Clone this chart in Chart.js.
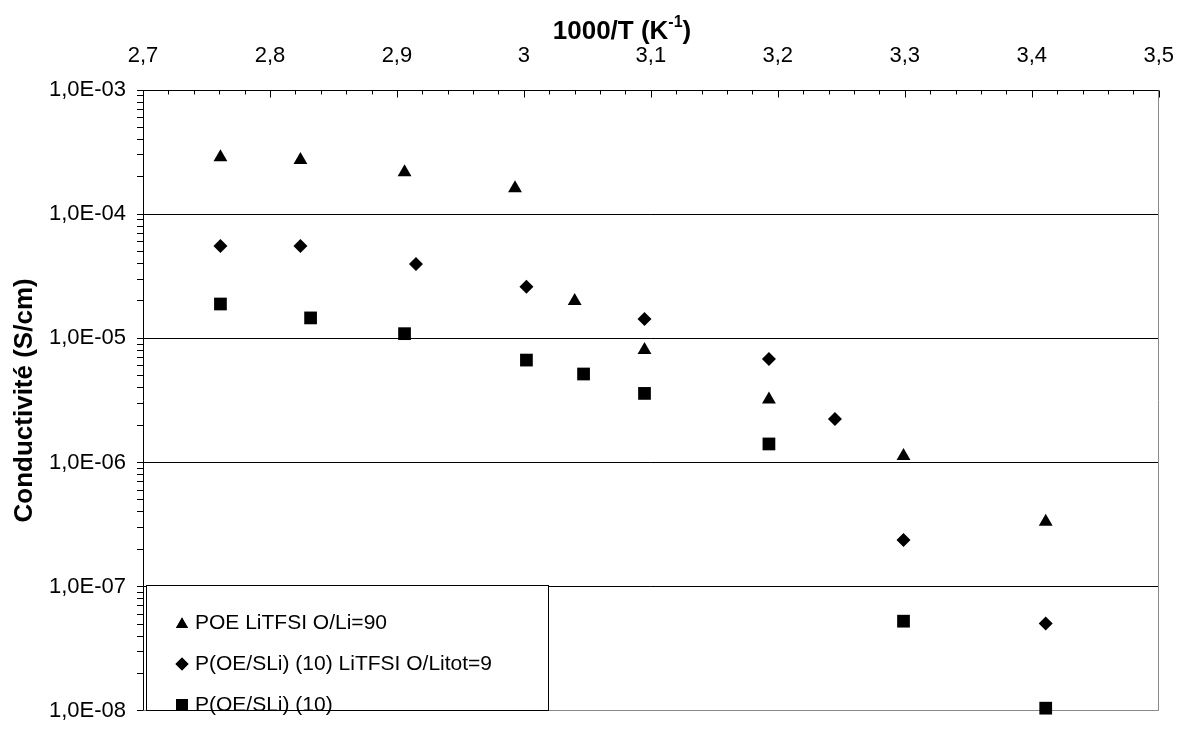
<!DOCTYPE html>
<html>
<head>
<meta charset="utf-8">
<script src="https://cdn.jsdelivr.net/npm/chart.js@4.4.1/dist/chart.umd.min.js"></script>
<style>
  html, body { margin: 0; padding: 0; background: #fff; }
  #wrap { width: 1195px; height: 735px; }
</style>
</head>
<body>
<div id="wrap"><canvas id="chart" width="1195" height="735"></canvas></div>
<script>
// series (x = 1000/T, y = conductivity in S/cm)
const seriesNames = ["POE LiTFSI O/Li=90", "P(OE/SLi) (10) LiTFSI O/Litot=9", "P(OE/SLi) (10)"];

const poeX = [2.761, 2.824, 2.906, 2.993, 3.040, 3.095, 3.193, 3.299, 3.411];
const poeY = [2.87e-4, 2.73e-4, 2.18e-4, 1.62e-4, 2.0e-5, 8.05e-6, 3.21e-6, 1.13e-6, 3.33e-7];

const blendX = [2.761, 2.824, 2.915, 3.002, 3.095, 3.193, 3.245, 3.299, 3.411];
const blendY = [5.55e-5, 5.55e-5, 3.96e-5, 2.6e-5, 1.43e-5, 6.8e-6, 2.24e-6, 2.38e-7, 5.05e-8];

const singleX = [2.761, 2.832, 2.906, 3.002, 3.047, 3.095, 3.193, 3.299, 3.411];
const singleY = [1.89e-5, 1.46e-5, 1.09e-5, 6.68e-6, 5.16e-6, 3.6e-6, 1.41e-6, 5.27e-8, 1.05e-8];

// axis ticks
const xMajorTicks = [2.7, 2.8, 2.9, 3.0, 3.1, 3.2, 3.3, 3.4, 3.5];
const yDecades = [1e-8, 1e-7, 1e-6, 1e-5, 1e-4, 1e-3];

const FONT = "'Liberation Sans', Arial, sans-serif";
Chart.defaults.font.family = FONT;
Chart.defaults.color = "#000";

const toPoints = (xs, ys) => xs.map((x, i) => ({ x: x, y: ys[i] }));

// minor ticks every 0.02 between the labelled ones
const xTicks = [];
for (let i = 0; i < xMajorTicks.length - 1; i++) {
  for (let k = 0; k < 5; k++) {
    xTicks.push(Math.round((xMajorTicks[i] + k * 0.02) * 100) / 100);
  }
}
xTicks.push(xMajorTicks[xMajorTicks.length - 1]);
const isXMajor = (v) => Math.round(v * 100) % 10 === 0;

// log minor ticks 2..9 in each decade
const yTicks = [];
yDecades.forEach((d, i) => {
  yTicks.push(d);
  if (i < yDecades.length - 1) {
    for (let m = 2; m <= 9; m++) yTicks.push(m * d);
  }
});
const isDecade = (v) => {
  const e = Math.round(Math.log10(v));
  return Math.abs(v / Math.pow(10, e) - 1) < 1e-6;
};

const frame = {
  id: "frame",
  beforeDatasetsDraw(chart) {
    const { ctx, chartArea: a, scales } = chart;
    const L = Math.round(a.left) + 0.5, R = Math.round(a.right) - 0.5;
    const T = Math.round(a.top) + 0.5, B = Math.round(a.bottom) - 0.5;
    ctx.save();
    ctx.lineWidth = 1;
    ctx.strokeStyle = "#8a8a8a";
    ctx.beginPath();
    ctx.moveTo(L, B);
    ctx.lineTo(R, B);
    ctx.lineTo(R, T);
    ctx.stroke();
    ctx.strokeStyle = "#000";
    ctx.beginPath();
    ctx.moveTo(R, T);
    ctx.lineTo(L, T);
    ctx.lineTo(L, B);
    ctx.stroke();
    // inward ticks on the top axis
    ctx.beginPath();
    xTicks.forEach((v) => {
      const px = Math.round(scales.x.getPixelForValue(v)) + 0.5;
      const len = isXMajor(v) ? 7 : 4;
      ctx.moveTo(px, T);
      ctx.lineTo(px, T + len);
    });
    ctx.stroke();
    ctx.restore();
  },
  afterDatasetsDraw(chart) {
    const { ctx, scales } = chart;
    // legend box
    const left = Math.round(chart.chartArea.left) + 3.5;
    const top = Math.round(scales.y.getPixelForValue(1e-7)) - 1.5;
    const right = 548.5;
    const bottom = Math.round(chart.chartArea.bottom) - 0.5;
    ctx.save();
    ctx.fillStyle = "#fff";
    ctx.fillRect(left, top, right - left, bottom - top);
    ctx.strokeStyle = "#000";
    ctx.lineWidth = 1;
    ctx.strokeRect(left, top, right - left, bottom - top);
    const rows = [623, 664, 705];
    const legendRadius = [7, 6.5, 8.5];
    ctx.font = "21px " + FONT;
    ctx.textBaseline = "middle";
    ctx.textAlign = "left";
    chart.data.datasets.forEach((ds, i) => {
      ctx.fillStyle = "#000";
      ctx.strokeStyle = "#000";
      Chart.helpers.drawPoint(ctx, {
        pointStyle: ds.pointStyle,
        radius: legendRadius[i],
        rotation: 0,
        borderWidth: 0
      }, 182, rows[i] + (ds.pointStyle === "triangle" ? 1.5 : 0));
      ctx.fill();
      ctx.fillText(ds.label, 195, rows[i]);
    });
    ctx.restore();
  },
  afterDraw(chart) {
    const { ctx } = chart;
    // top axis title with superscript
    const cx = 622, cy = 32;
    const main = "1000/T (K", sup = "-1", tail = ")";
    ctx.save();
    ctx.fillStyle = "#000";
    ctx.textBaseline = "middle";
    ctx.textAlign = "left";
    const big = "bold 26px " + FONT, small = "bold 16px " + FONT;
    ctx.font = big;
    const w1 = ctx.measureText(main).width, w3 = ctx.measureText(tail).width;
    ctx.font = small;
    const w2 = ctx.measureText(sup).width;
    let x0 = cx - (w1 + w2 + w3) / 2;
    ctx.font = big;
    ctx.fillText(main, x0, cy);
    ctx.font = small;
    ctx.fillText(sup, x0 + w1, cy - 9);
    ctx.font = big;
    ctx.fillText(tail, x0 + w1 + w2, cy);
    ctx.restore();
  }
};

new Chart(document.getElementById("chart"), {
  type: "scatter",
  data: {
    datasets: [
      {
        label: seriesNames[0],
        data: toPoints(poeX, poeY),
        pointStyle: "triangle",
        pointRadius: 8,
        backgroundColor: "#000",
        borderColor: "#000",
        borderWidth: 0,
        clip: false
      },
      {
        label: seriesNames[1],
        data: toPoints(blendX, blendY),
        pointStyle: "rectRot",
        pointRadius: 7,
        backgroundColor: "#000",
        borderColor: "#000",
        borderWidth: 0,
        clip: false
      },
      {
        label: seriesNames[2],
        data: toPoints(singleX, singleY),
        pointStyle: "rect",
        pointRadius: 9,
        backgroundColor: "#000",
        borderColor: "#000",
        borderWidth: 0,
        clip: false
      }
    ]
  },
  options: {
    responsive: false,
    devicePixelRatio: 1,
    animation: false,
    layout: {
      padding: { top: 0, right: 18, bottom: 9, left: 0 }
    },
    scales: {
      x: {
        type: "linear",
        position: "top",
        min: 2.7,
        max: 3.5,
        afterBuildTicks: (scale) => {
          scale.ticks = xTicks.map((v) => ({ value: v }));
        },
        afterFit: (scale) => {
          scale.height = 90;
        },
        grid: { display: false, drawTicks: false },
        border: { display: false },
        ticks: {
          autoSkip: false,
          maxRotation: 0,
          padding: 21,
          font: { size: 22 },
          callback: (value) => (isXMajor(value) ? String(Math.round(value * 10) / 10).replace(".", ",") : "")
        }
      },
      y: {
        type: "logarithmic",
        min: 1e-8,
        max: 1e-3,
        afterBuildTicks: (scale) => {
          scale.ticks = yTicks.map((v) => ({ value: v }));
        },
        afterFit: (scale) => {
          scale.width = 143;
        },
        grid: {
          color: (c) => {
            if (!c.tick || !isDecade(c.tick.value)) return "rgba(0,0,0,0)";
            return c.tick.value < 2e-8 ? "#8a8a8a" : "#000";
          },
          tickColor: "#000",
          tickLength: 6,
          lineWidth: 1
        },
        border: { display: false },
        ticks: {
          autoSkip: false,
          padding: 11,
          font: { size: 22 },
          callback: (value) => {
            if (!isDecade(value)) return "";
            const e = Math.round(Math.log10(value));
            return "1,0E-" + String(-e).padStart(2, "0");
          }
        },
        title: {
          display: true,
          text: "Conductivité (S/cm)",
          font: { size: 26, weight: "bold" },
          padding: { top: 9, bottom: 4 }
        }
      }
    },
    plugins: {
      legend: { display: false },
      tooltip: { enabled: false }
    }
  },
  plugins: [frame]
});
</script>
</body>
</html>
